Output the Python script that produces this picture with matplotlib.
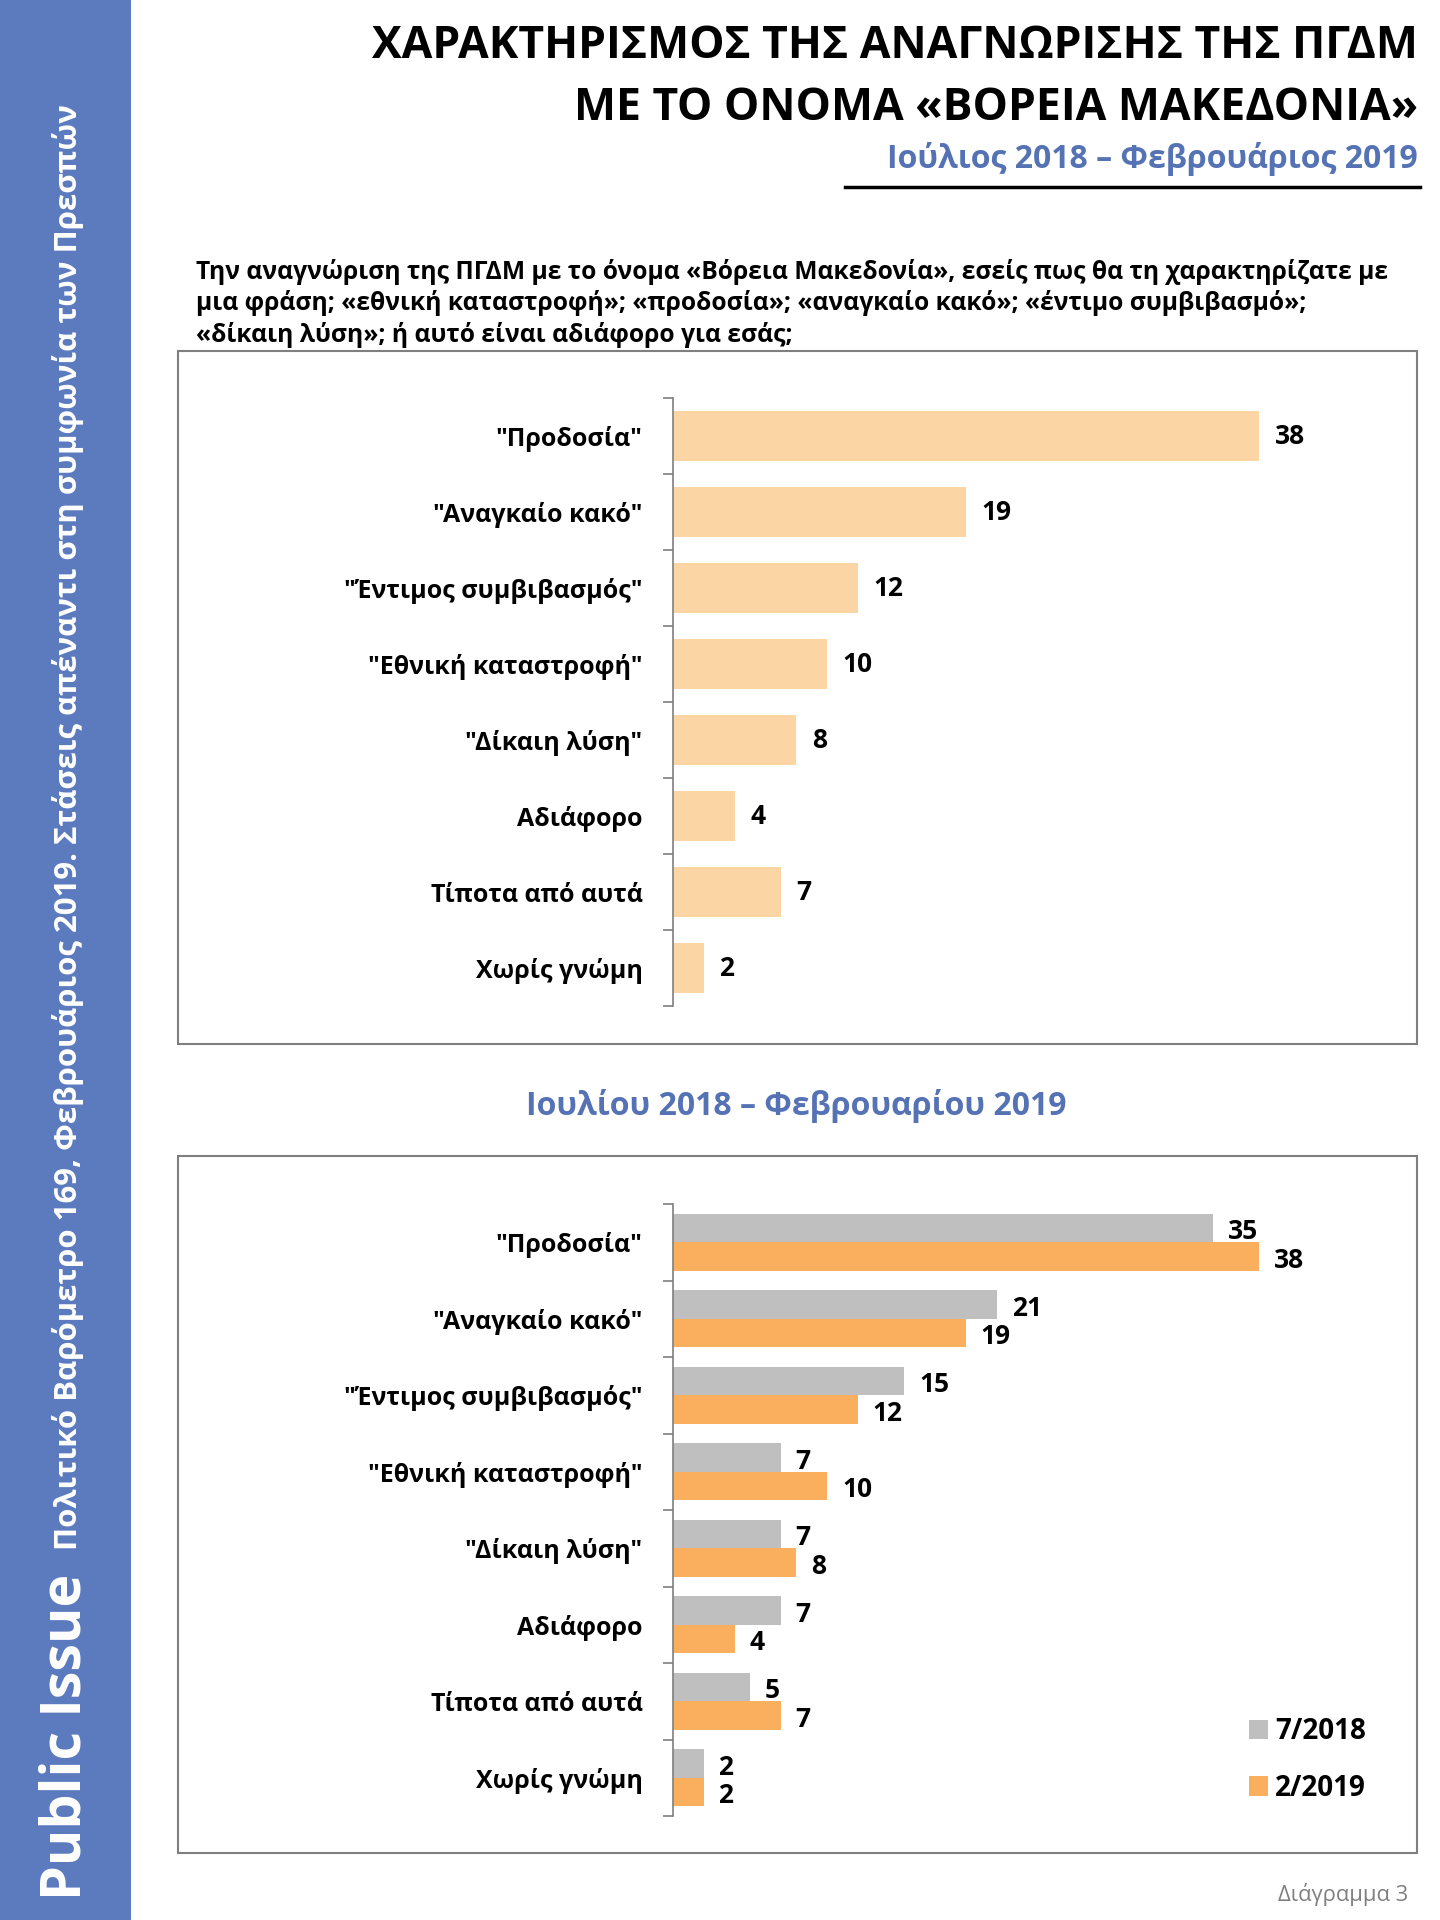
import matplotlib
matplotlib.use("Agg")
import matplotlib.pyplot as plt
import numpy as np
from matplotlib.patches import Rectangle
from matplotlib.lines import Line2D

plt.rcParams['font.family'] = ['Open Sans', 'DejaVu Sans']

# donnees
categories = ['"Προδοσία"', '"Αναγκαίο κακό"', '"Έντιμος συμβιβασμός"',
              '"Εθνική καταστροφή"', '"Δίκαιη λύση"', 'Αδιάφορο',
              'Τίποτα από αυτά', 'Χωρίς γνώμη']
feb_2019 = [38, 19, 12, 10, 8, 4, 7, 2]
jul_2018 = [35, 21, 15, 7, 7, 7, 5, 2]
series_names = ['7/2018', '2/2019']

W, H = 1440, 1920
BLUE_SIDE = '#5B7BBE'
BLUE_TXT = '#5472B4'
PEACH = '#FCD5A5'
GREY = '#BFBFBF'
ORANGE = '#F9AF5D'

def fx(x):
    return x / W

def fy(y):
    return 1 - y / H

def box(x0, y0, x1, y1):
    # rectangle en pixels (haut-gauche, bas-droite)
    return [fx(x0), fy(y1), fx(x1) - fx(x0), fy(y0) - fy(y1)]

fig = plt.figure(figsize=(14.4, 19.2), dpi=100)
fig.patch.set_facecolor('white')

# bandeau lateral
fig.add_artist(Rectangle((0, 0), fx(131), 1, transform=fig.transFigure,
                         facecolor=BLUE_SIDE, edgecolor='none'))
fig.text(fx(66), fy(1900), 'Public Issue', rotation=90, color='white',
         fontsize=40, fontweight='bold', ha='center', va='bottom')
fig.text(fx(68), fy(1550),
         'Πολιτικό Βαρόμετρο 169, Φεβρουάριος 2019. Στάσεις απέναντι στη συμφωνία των Πρεσπών',
         rotation=90, color='white', fontsize=22.4, fontweight='bold',
         ha='center', va='bottom')

# titres
fig.text(fx(1418), fy(47), 'ΧΑΡΑΚΤΗΡΙΣΜΟΣ ΤΗΣ ΑΝΑΓΝΩΡΙΣΗΣ ΤΗΣ ΠΓΔΜ',
         fontsize=32, fontweight='bold', ha='right', va='center')
fig.text(fx(1418), fy(108), 'ΜΕ ΤΟ ΟΝΟΜΑ «ΒΟΡΕΙΑ ΜΑΚΕΔΟΝΙΑ»',
         fontsize=32, fontweight='bold', ha='right', va='center')
fig.text(fx(1418), fy(159), 'Ιούλιος 2018 – Φεβρουάριος 2019',
         fontsize=23, fontweight='bold', color=BLUE_TXT, ha='right', va='center')
fig.add_artist(Line2D([fx(845), fx(1420)], [fy(187), fy(187)],
                      transform=fig.transFigure, color='black', lw=2.5))

question = ('Την αναγνώριση της ΠΓΔΜ με το όνομα «Βόρεια Μακεδονία», εσείς πως θα τη χαρακτηρίζατε με\n'
            'μια φράση; «εθνική καταστροφή»; «προδοσία»; «αναγκαίο κακό»; «έντιμο συμβιβασμό»;\n'
            '«δίκαιη λύση»; ή αυτό είναι αδιάφορο για εσάς;')
fig.text(fx(196), fy(259), question, fontsize=17.7, fontweight='bold',
         ha='left', va='top', linespacing=1.27)

# cadres
for y0, y1 in [(351, 1044), (1156, 1853)]:
    fig.add_artist(Rectangle((fx(178), fy(y1)), fx(1417) - fx(178), fy(y0) - fy(y1),
                             transform=fig.transFigure, facecolor='none',
                             edgecolor='#7F7F7F', lw=1.5))

fig.text(fx(796), fy(1106), 'Ιουλίου 2018 – Φεβρουαρίου 2019',
         fontsize=23, fontweight='bold', color=BLUE_TXT, ha='center', va='center')

fig.text(fx(1408), fy(1895), 'Διάγραμμα 3', fontsize=15.8, color='#7F7F7F',
         ha='right', va='center')

n = len(categories)
ypos = np.arange(n)
px_per_unit = 15.43
x_left = 673
x_right = 1400
xmax = (x_right - x_left) / px_per_unit


def style_axis(ax):
    ax.set_xlim(0, xmax)
    ax.set_ylim(n - 0.5, -0.5)
    for s in ['top', 'right', 'bottom']:
        ax.spines[s].set_visible(False)
    ax.spines['left'].set_color('#7F7F7F')
    ax.spines['left'].set_linewidth(1.2)
    ax.set_xticks([])
    ax.set_yticks(np.arange(-0.5, n, 1.0))
    ax.set_yticklabels([])
    ax.tick_params(axis='y', which='major', length=7, color='#7F7F7F', width=1.2)
    ax.set_yticks(ypos, minor=True)
    ax.set_yticklabels(categories, minor=True, fontsize=18, fontweight='bold')
    ax.tick_params(axis='y', which='minor', length=0, pad=22)
    ax.patch.set_alpha(0)


# graphique du haut
ax1 = fig.add_axes(box(x_left, 398, x_right, 1006))
ax1.barh(ypos, feb_2019, height=0.65, color=PEACH)
for y, v in zip(ypos, feb_2019):
    ax1.text(v + 1.0, y, str(v), va='center', ha='left', fontsize=19, fontweight='bold')
style_axis(ax1)

# graphique du bas
ax2 = fig.add_axes(box(x_left, 1204, x_right, 1816))
bh = 0.37
ax2.barh(ypos - bh / 2, jul_2018, height=bh, color=GREY, label=series_names[0])
ax2.barh(ypos + bh / 2, feb_2019, height=bh, color=ORANGE, label=series_names[1])
for y, v in zip(ypos, jul_2018):
    ax2.text(v + 0.95, y - bh / 2 + 0.05, str(v), va='center', ha='left',
             fontsize=19, fontweight='bold')
for y, v in zip(ypos, feb_2019):
    ax2.text(v + 0.95, y + bh / 2 + 0.05, str(v), va='center', ha='left',
             fontsize=19, fontweight='bold')
style_axis(ax2)

leg = fig.legend(loc='upper left', bbox_to_anchor=(fx(1224), fy(1692)),
                 frameon=False, handlelength=0.7, handleheight=0.7,
                 handletextpad=0.25, labelspacing=1.0,
                 prop={'weight': 'bold', 'size': 20})

fig.savefig('out.png', dpi=100, facecolor='white')
